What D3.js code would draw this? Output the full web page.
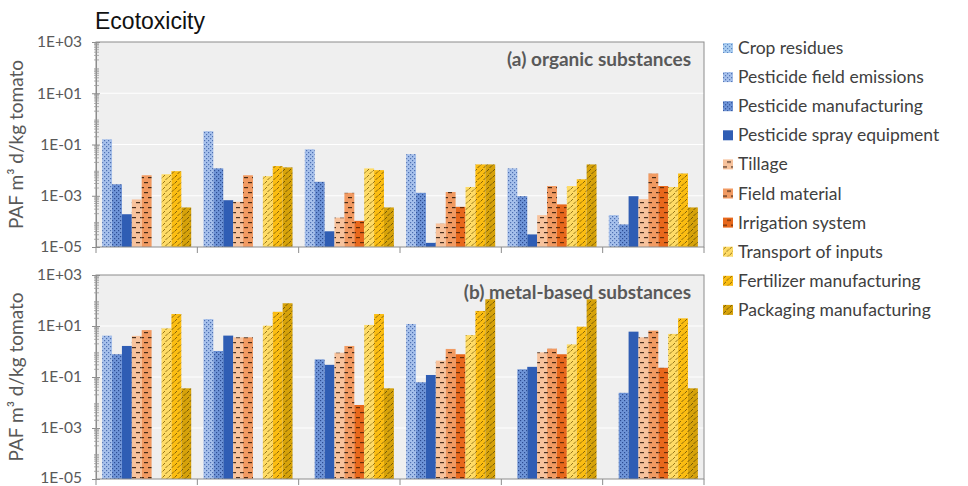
<!DOCTYPE html>
<html>
<head>
<meta charset="utf-8">
<title>Ecotoxicity</title>
<script src="https://cdn.jsdelivr.net/npm/d3@7"></script>
<style>
    body { margin: 0; background: white; }
    .tick-label { font-family: Lato, "Open Sans", sans-serif; font-size: 15.5px; fill: #595959; }
    .axis-title { font-family: Lato, "Open Sans", sans-serif; font-size: 19px; fill: #595959; }
    .panel-label { font-family: Lato, "Open Sans", sans-serif; font-size: 19px; font-weight: bold; fill: #595959; }
    .legend-text { font-family: Lato, "Open Sans", sans-serif; font-size: 17.5px; fill: #404040; }
    .title { font-family: "Liberation Sans", Arial, sans-serif; font-size: 23px; fill: #111; }
</style>
</head>
<body>
<script>
// data
const scenarios = ["S1", "S2", "S3", "S4", "S5", "S6"];
const seriesNames = ["Crop residues", "Pesticide field emissions", "Pesticide manufacturing",
    "Pesticide spray equipment", "Tillage", "Field material", "Irrigation system",
    "Transport of inputs", "Fertilizer manufacturing", "Packaging manufacturing"];
const tickValues = [1e3, 1e1, 1e-1, 1e-3, 1e-5];
const tickLabels = ["1E+03", "1E+01", "1E-01", "1E-03", "1E-05"];

// (a) organic substances, one row per series, one value per scenario
const organic = [
    [null, null, null, null, null, null],
    [0.16, 0.33, 0.065, 0.042, 0.0117, 1.75e-4],
    [0.0028, 0.0117, 0.0035, 0.0013, 9.6e-4, 7.6e-5],
    [1.9e-4, 6.7e-4, 4.1e-5, 1.45e-5, 3.1e-5, 9.6e-4],
    [7.2e-4, 5.8e-4, 1.4e-4, 8.3e-5, 1.75e-4, 7.4e-4],
    [6.3e-3, 6.3e-3, 1.3e-3, 1.4e-3, 2.4e-3, 7.4e-3],
    [null, null, 1.05e-4, 3.7e-4, 4.6e-4, 2.4e-3],
    [6.9e-3, 5.8e-3, 0.0117, 2.2e-3, 2.4e-3, 2.2e-3],
    [9.1e-3, 0.0144, 0.010, 0.0167, 4.4e-3, 7.4e-3],
    [3.5e-4, 0.0128, 3.5e-4, 0.0167, 0.0167, 3.5e-4]
];
// (b) metal-based substances
const metal = [
    [null, null, null, null, null, null],
    [4.2, 18.7, null, 12, null, null],
    [0.78, 1.05, 0.49, 0.062, 0.2, 0.024],
    [1.65, 4.2, 0.30, 0.12, 0.25, 6.0],
    [4.1, 3.6, 0.9, 0.44, 0.93, 3.6],
    [6.9, 3.6, 1.65, 1.26, 1.3, 6.6],
    [null, null, 0.008, 0.78, 0.78, 0.23],
    [8.1, 10.3, 11, 4.4, 1.9, 4.9],
    [29.5, 36, 29.5, 39, 9.4, 20],
    [0.036, 78, 0.036, 112, 112, 0.036]
];

// styles per series: fill, mark colour, pattern kind
const fills = ["#aacdf0", "#a7c1ec", "#6f95d8", "#2f5db4", "#f7c29c", "#f19a62", "#e8681c", "#fedb66", "#fbbd12", "#d6a20a"];
const inks = ["#5d86c4", "#4d6fb0", "#2c4c92", "#2a4f9c", "#4a3020", "#4a2a14", "#6a2e08", "#8a6a10", "#7a5a06", "#6a5004"];
const kinds = ["dots", "dots", "dots", "solid", "dash", "dash", "dash", "diag", "diag", "diag"];

const W = 968, H = 486;
const left = 96, right = 704;
const panels = [
    {data: organic, top: 42, bottom: 247, label: "(a) organic substances"},
    {data: metal, top: 275, bottom: 479, label: "(b) metal-based substances"}
];

const svg = d3.select("body").append("svg").attr("width", W).attr("height", H);
const defs = svg.append("defs");

fills.forEach(function (c, i) {
    const k = kinds[i];
    if (k === "solid") return;
    const p = defs.append("pattern").attr("id", "pat" + i)
        .attr("patternUnits", "userSpaceOnUse");
    if (k === "dots") {
        p.attr("width", 4).attr("height", 4);
        p.append("rect").attr("width", 4).attr("height", 4).attr("fill", c);
        p.append("rect").attr("x", 0).attr("y", 0).attr("width", 1.2).attr("height", 1.2).attr("fill", inks[i]);
        p.append("rect").attr("x", 2).attr("y", 2).attr("width", 1.2).attr("height", 1.2).attr("fill", inks[i]);
    } else if (k === "dash") {
        p.attr("width", 8).attr("height", 10);
        p.append("rect").attr("width", 8).attr("height", 10).attr("fill", c);
        p.append("rect").attr("x", 0).attr("y", 2).attr("width", 4).attr("height", 1.2).attr("fill", inks[i]);
        p.append("rect").attr("x", 4).attr("y", 7).attr("width", 4).attr("height", 1.2).attr("fill", inks[i]);
    } else {
        p.attr("width", 6).attr("height", 6);
        p.append("rect").attr("width", 6).attr("height", 6).attr("fill", c);
        p.append("path").attr("d", "M0.5,3.5 L3,1 M3.5,6 L6,3.5").attr("stroke", inks[i])
            .attr("stroke-width", 0.9).attr("fill", "none");
    }
});
const fillOf = i => kinds[i] === "solid" ? fills[i] : "url(#pat" + i + ")";

// title
svg.append("text").attr("class", "title").attr("x", left - 1).attr("y", 29).text("Ecotoxicity");

// only series with values get a slot in the bar groups
const barSeries = d3.range(seriesNames.length)
    .filter(i => organic[i].some(v => v != null) || metal[i].some(v => v != null));

const x0 = d3.scaleBand().domain(scenarios).range([left, right]).padding(0);
const x1 = d3.scaleBand().domain(barSeries).range([0, x0.bandwidth()]).paddingInner(0).paddingOuter(0.62);

panels.forEach(function (panel) {
    const y = d3.scaleLog().domain([1e-5, 1e3]).range([panel.bottom, panel.top]);
    const g = svg.append("g");

    g.append("rect").attr("x", left).attr("y", panel.top)
        .attr("width", right - left).attr("height", panel.bottom - panel.top)
        .attr("fill", "#efefef");

    // gridlines
    g.selectAll(".grid").data(tickValues.slice(1, -1)).enter().append("line")
        .attr("x1", left).attr("x2", right)
        .attr("y1", d => y(d)).attr("y2", d => y(d))
        .attr("stroke", "#ffffff").attr("stroke-width", 1);

    // bars
    scenarios.forEach(function (s, j) {
        const bars = barSeries.filter(i => panel.data[i][j] != null);
        g.selectAll(null).data(bars).enter().append("rect")
            .attr("x", i => x0(s) + x1(i))
            .attr("width", x1.bandwidth())
            .attr("y", i => y(panel.data[i][j]))
            .attr("height", i => panel.bottom - y(panel.data[i][j]))
            .attr("fill", i => fillOf(i));
    });

    // frame
    g.append("rect").attr("x", left).attr("y", panel.top)
        .attr("width", right - left).attr("height", panel.bottom - panel.top)
        .attr("fill", "none").attr("stroke", "#8c8c8c").attr("stroke-width", 1);

    // y axis with log minor ticks
    const yAxis = d3.axisLeft(y).tickValues(tickValues).tickFormat((d, k) => tickLabels[k])
        .tickSizeInner(4).tickSizeOuter(0).tickPadding(10);
    const ax = g.append("g").attr("transform", "translate(" + left + ",0)").call(yAxis);
    ax.select(".domain").attr("stroke", "#8c8c8c");
    ax.selectAll(".tick line").attr("stroke", "#8c8c8c").attr("x2", 4).attr("x1", -4);
    ax.selectAll(".tick text").attr("class", "tick-label").attr("fill", null)
        .attr("dy", (d, k) => (d === 1e-5 && panel.bottom > 400) ? "0.2em" : "0.32em");
    const minors = [];
    for (let e = -5; e < 3; e++) for (let m = 2; m <= 9; m++) minors.push(m * Math.pow(10, e));
    g.selectAll(".minor").data(minors).enter().append("line")
        .attr("x1", left - 2).attr("x2", left + 3)
        .attr("y1", d => y(d)).attr("y2", d => y(d))
        .attr("stroke", "#9a9a9a").attr("stroke-width", 0.8);

    // x axis category ticks
    const bounds = scenarios.map(s => x0(s)).concat([right]);
    g.selectAll(".xt").data(bounds).enter().append("line")
        .attr("x1", d => d).attr("x2", d => d)
        .attr("y1", panel.bottom).attr("y2", panel.bottom + 6)
        .attr("stroke", "#8c8c8c");

    // y title
    svg.append("text").attr("class", "axis-title")
        .attr("transform", "translate(23," + ((panel.top + panel.bottom) / 2) + ") rotate(-90)")
        .attr("text-anchor", "middle").text("PAF m³ d/kg tomato");

    svg.append("text").attr("class", "panel-label").attr("text-anchor", "end")
        .attr("x", 691).attr("y", panel.top + 24).text(panel.label);
});

// legend
const leg = svg.append("g").selectAll("g").data(d3.range(seriesNames.length)).enter().append("g")
    .attr("transform", i => "translate(723," + (48 + i * 29.1) + ")");
leg.append("rect").attr("x", 0).attr("y", -5).attr("width", 10).attr("height", 10)
    .attr("fill", i => fillOf(i));
leg.append("text").attr("class", "legend-text").attr("x", 15).attr("y", 6)
    .text(i => seriesNames[i]);
</script>
</body>
</html>
